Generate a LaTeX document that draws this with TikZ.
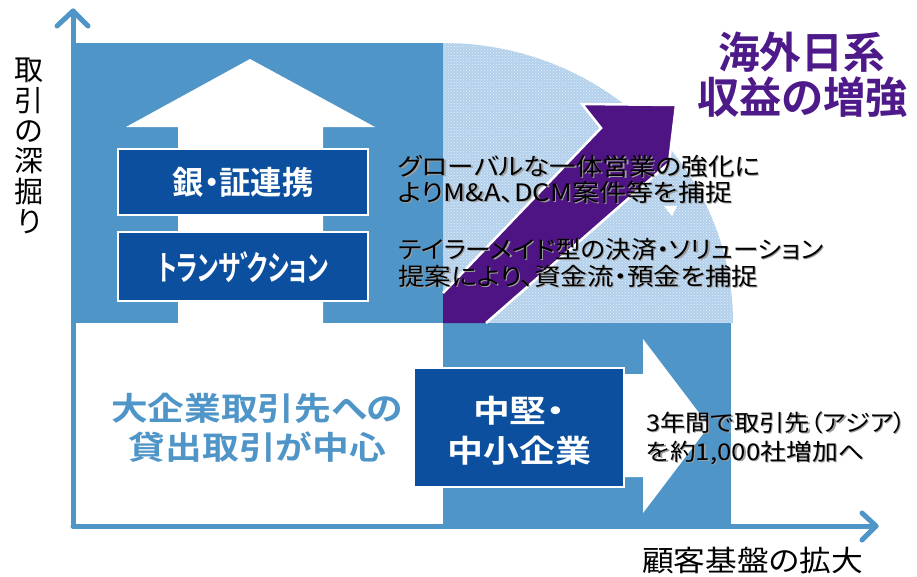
\documentclass[tikz,border=0pt]{standalone}
\usepackage{fontspec}
\setmainfont{Noto Sans CJK JP}[RawFeature=+palt,BoldFont={Noto Sans CJK JP Bold}]
\usetikzlibrary{patterns}
\definecolor{lblue}{HTML}{4F95C8}
\definecolor{dblue}{HTML}{0B4F9E}
\definecolor{purp}{HTML}{4F1483}
\definecolor{ptext}{HTML}{4E1A8A}
\definecolor{dotc}{HTML}{B2D0EB}
\newcommand\fitw[2]{\resizebox{#1}{\height}{#2}}
% name, x, y (baseline, left), width, size, text
\newcommand\gtxt[6]{%
  \node[gshadow] (#1s) at (#2+1.3,#3+1.3) {\fontsize{#5}{#5}\selectfont\fitw{#4pt}{#6}};
  \node[gtext] (#1) at (#2,#3) {\fontsize{#5}{#5}\selectfont\fitw{#4pt}{#6}};}
\begin{document}
\begin{tikzpicture}[x=1pt,y=-1pt,
  gtext/.style={inner sep=0pt,anchor=base west,text=black},
  gshadow/.style={gtext,text=black!38},
  box/.style={draw=white,line width=1.5pt,fill=dblue,inner sep=0pt},
  ctext/.style={inner sep=0pt,anchor=base},
  axis/.style={draw=lblue,line width=5pt,line cap=round,line join=round}]
\useasboundingbox (0,0) rectangle (917,576);
\fill[white] (0,0) rectangle (917,576);
% regions
\fill[lblue] (73,43) rectangle (443,323);
\fill[dotc] (443,323) -- (443,43) arc[start angle=-90,end angle=0,x radius=290,y radius=280] -- cycle;
\fill[pattern=crosshatch dots,pattern color=white!70!dotc] (443,323) -- (443,43) arc[start angle=-90,end angle=0,x radius=290,y radius=280] -- cycle;
\fill[lblue] (443,323) rectangle (731,527);
% white arrows
\fill[white] (126,127) -- (250,59) -- (375,127) -- (323,127) -- (323,324) -- (178,324) -- (178,127) -- cycle;
\fill[white] (443,374) -- (643,374) -- (643,339) -- (709,426) -- (643,513) -- (643,477) -- (443,477) -- cycle;
% purple arrow
\fill[purp] (443,323) -- (443,293) -- (601,128) -- (582,104) -- (676,105) -- (669,163) -- (486,323) -- cycle;
\draw[white,line width=2.5pt,line join=miter] (443,293) -- (601,128) -- (582,104) -- (676,105) -- (669,163) -- (486,323);
\fill[white] (664,206) -- (677,206) -- (672,216) -- cycle;
% boxes
\node[box,minimum width=250pt,minimum height=66pt] (b1) at (243,182) {};
\node[box,minimum width=250pt,minimum height=69pt] (b2) at (243,266.5) {};
\node[box,minimum width=210pt,minimum height=119pt] (b3) at (519,427.5) {};
\node[ctext,text=white,yshift=-12.7pt] (t1) at (b1.center) {\fontsize{32}{32}\selectfont\bfseries\fitw{141pt}{銀・証連携}};
\node[ctext,text=white,yshift=-13.5pt] (t2) at (b2.center) {\fontsize{34}{34}\selectfont\bfseries\fitw{171pt}{トランサ\makebox[0.3em][l]{゛}クション}};
\node[ctext,text=white,yshift=4.7pt] (t3) at (b3.center) {\fontsize{31}{31}\selectfont\bfseries\fitw{92pt}{中堅・}};
\node[ctext,text=white,yshift=-35.3pt] (t4) at (b3.center) {\fontsize{31}{31}\selectfont\bfseries\fitw{144pt}{中小企業}};
% title
\node[ctext,text=ptext] (h1) at (801.5,68.8) {\fontsize{43}{43}\selectfont\bfseries\fitw{167pt}{海外日系}};
\node[ctext,text=ptext] (h2) at (802.5,113.8) {\fontsize{43}{43}\selectfont\bfseries\fitw{211pt}{収益の増強}};
% light blue text
\node[ctext,text=lblue] (l1) at (257,420.7) {\fontsize{32}{32}\selectfont\bfseries\fitw{292pt}{大企業取引先への}};
\node[ctext,text=lblue] (l2) at (257.5,459.7) {\fontsize{32}{32}\selectfont\bfseries\fitw{257pt}{貸出取引が中心}};
% descriptive texts
\gtxt{g1}{398}{175}{362}{24}{グローバルな一体営業の強化に}
\gtxt{g2}{398}{201.5}{334}{24}{よりM\&A、DCM案件等を捕捉}
\gtxt{g3}{398}{258}{425}{24}{テイラーメイド型の決済・ソリューション}
\gtxt{g4}{398}{285}{360}{24}{提案により、資金流・預金を捕捉}
\gtxt{r1}{646}{431.5}{260}{23}{3年間で取引先（アジア）}
\gtxt{r2}{646}{460}{218}{23}{を約1,000社増加へ}
% axes
\coordinate (O) at (73,526);
\coordinate (Ytop) at (73,11);
\coordinate (Xend) at (876,526);
\draw[axis] (O) -- (Ytop);
\draw[axis] ([xshift=-16pt,yshift=-15pt]Ytop) -- (Ytop) -- ([xshift=15pt,yshift=-15pt]Ytop);
\draw[axis] (O) -- (Xend);
\draw[axis] ([xshift=-14pt,yshift=13pt]Xend) -- (Xend) -- ([xshift=-14pt,yshift=-14pt]Xend);
% axis labels
\node[gtext] (xl) at (642,571) {\fontsize{29}{29}\selectfont\fitw{221pt}{顧客基盤の拡大}};
\foreach \c [count=\i] in {取,引,の,深,掘,り}
  \node[ctext,text=black] (v\i) at (29,50.5+30.3*\i) {\fontsize{29}{29}\selectfont\c};
\end{tikzpicture}
\end{document}
